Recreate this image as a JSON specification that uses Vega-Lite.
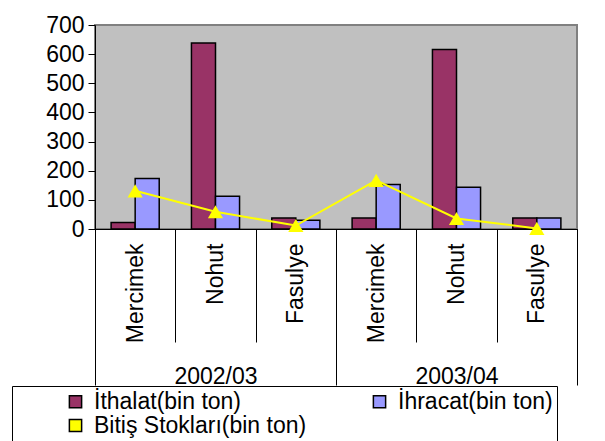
{
  "$schema": "https://vega.github.io/schema/vega-lite/v6.json",
  "width": 482,
  "height": 204,
  "autosize": {"type": "none"},
  "padding": {"left": 95, "top": 25, "right": 28, "bottom": 212},
  "background": "white",
  "config": {
    "font": "Liberation Sans",
    "view": {"fill": "#C0C0C0", "stroke": "#808080", "strokeWidth": 2},
    "axis": {"labelColor": "black", "tickColor": "black", "domainColor": "black", "labelFont": "Liberation Sans", "labelFontSize": 22, "grid": false, "title": null, "labelOverlap": false}
  },
  "datasets": {
    "rows": [
      {"period": "2002/03", "crop": "Mercimek", "key": "2002/03|Mercimek", "series": "İthalat(bin ton)", "value": 22},
      {"period": "2002/03", "crop": "Mercimek", "key": "2002/03|Mercimek", "series": "İhracat(bin ton)", "value": 173},
      {"period": "2002/03", "crop": "Mercimek", "key": "2002/03|Mercimek", "series": "Bitiş Stokları(bin ton)", "value": 131},
      {"period": "2002/03", "crop": "Nohut", "key": "2002/03|Nohut", "series": "İthalat(bin ton)", "value": 638},
      {"period": "2002/03", "crop": "Nohut", "key": "2002/03|Nohut", "series": "İhracat(bin ton)", "value": 112},
      {"period": "2002/03", "crop": "Nohut", "key": "2002/03|Nohut", "series": "Bitiş Stokları(bin ton)", "value": 59},
      {"period": "2002/03", "crop": "Fasulye", "key": "2002/03|Fasulye", "series": "İthalat(bin ton)", "value": 38},
      {"period": "2002/03", "crop": "Fasulye", "key": "2002/03|Fasulye", "series": "İhracat(bin ton)", "value": 30},
      {"period": "2002/03", "crop": "Fasulye", "key": "2002/03|Fasulye", "series": "Bitiş Stokları(bin ton)", "value": 12},
      {"period": "2003/04", "crop": "Mercimek", "key": "2003/04|Mercimek", "series": "İthalat(bin ton)", "value": 38},
      {"period": "2003/04", "crop": "Mercimek", "key": "2003/04|Mercimek", "series": "İhracat(bin ton)", "value": 153},
      {"period": "2003/04", "crop": "Mercimek", "key": "2003/04|Mercimek", "series": "Bitiş Stokları(bin ton)", "value": 167},
      {"period": "2003/04", "crop": "Nohut", "key": "2003/04|Nohut", "series": "İthalat(bin ton)", "value": 616},
      {"period": "2003/04", "crop": "Nohut", "key": "2003/04|Nohut", "series": "İhracat(bin ton)", "value": 143},
      {"period": "2003/04", "crop": "Nohut", "key": "2003/04|Nohut", "series": "Bitiş Stokları(bin ton)", "value": 36},
      {"period": "2003/04", "crop": "Fasulye", "key": "2003/04|Fasulye", "series": "İthalat(bin ton)", "value": 38},
      {"period": "2003/04", "crop": "Fasulye", "key": "2003/04|Fasulye", "series": "İhracat(bin ton)", "value": 38},
      {"period": "2003/04", "crop": "Fasulye", "key": "2003/04|Fasulye", "series": "Bitiş Stokları(bin ton)", "value": 2}
    ]
  },
  "data": {"name": "rows"},
  "resolve": {"scale": {"x": "independent"}},
  "layer": [
    {
      "layer": [
        {
          "transform": [{"filter": "datum.series !== 'Bitiş Stokları(bin ton)'"}],
          "mark": {"type": "bar", "stroke": "black", "strokeWidth": 1.5},
          "encoding": {
            "x": {
              "field": "key", "type": "nominal",
              "scale": {"domain": ["2002/03|Mercimek", "2002/03|Nohut", "2002/03|Fasulye", "2003/04|Mercimek", "2003/04|Nohut", "2003/04|Fasulye"], "paddingInner": 0, "paddingOuter": 0},
              "axis": {"orient": "bottom", "labelAngle": 270, "tickBand": "extent", "tickSize": 113, "labelPadding": -99, "labelExpr": "split(datum.label, '|')[1]", "labelLimit": 300, "labelFontSize": 23}
            },
            "xOffset": {
              "field": "series", "type": "nominal",
              "scale": {"domain": ["İthalat(bin ton)", "İhracat(bin ton)"], "paddingInner": 0, "paddingOuter": 0.67}
            },
            "y": {
              "field": "value", "type": "quantitative",
              "scale": {"domain": [0, 700], "nice": false},
              "axis": {"values": [0, 100, 200, 300, 400, 500, 600, 700], "tickSize": 7, "labelPadding": 4, "labelFontSize": 23}
            },
            "color": {
              "field": "series", "type": "nominal",
              "scale": {"domain": ["İthalat(bin ton)", "İhracat(bin ton)", "Bitiş Stokları(bin ton)"], "range": ["#993366", "#9999FF", "#FFFF00"]},
              "legend": {
                "title": null,
                "orient": "none",
                "direction": "horizontal",
                "legendX": -83,
                "legendY": 361,
                "columns": 2,
                "columnPadding": 13,
                "rowPadding": -6,
                "gridAlign": "all",
                "padding": 4,
                "strokeColor": "black",
                "fillColor": "white",
                "symbolSize": 150,
                "symbolOffset": 48,
                "symbolStrokeWidth": 1.5,
                "labelFont": "Liberation Sans",
                "labelFontSize": 23,
                "labelColor": "black",
                "labelLimit": 400,
                "labelOffset": 7
              }
            }
          }
        },
        {
          "transform": [{"filter": "datum.series === 'Bitiş Stokları(bin ton)'"}],
          "mark": {"type": "line", "color": "#FFFF00", "strokeWidth": 2, "point": {"shape": "triangle-up", "size": 230, "filled": true, "color": "#FFFF00", "opacity": 1}},
          "encoding": {
            "x": {"field": "key", "type": "nominal"},
            "y": {
              "field": "value", "type": "quantitative",
              "axis": {"values": [0, 100, 200, 300, 400, 500, 600, 700], "tickSize": 7, "labelPadding": 4, "labelFontSize": 23}
            }
          }
        }
      ]
    },
    {
      "transform": [{"filter": "datum.series === 'İthalat(bin ton)'"}],
      "mark": {"type": "rect", "opacity": 0},
      "encoding": {
        "x": {
          "field": "period", "type": "nominal",
          "scale": {"domain": ["2002/03", "2003/04"], "paddingInner": 0, "paddingOuter": 0},
          "axis": {"orient": "bottom", "labelAngle": 0, "tickBand": "extent", "tickSize": 156, "labelPadding": -20, "domain": false, "labelFontSize": 23}
        }
      }
    }
  ]
}
